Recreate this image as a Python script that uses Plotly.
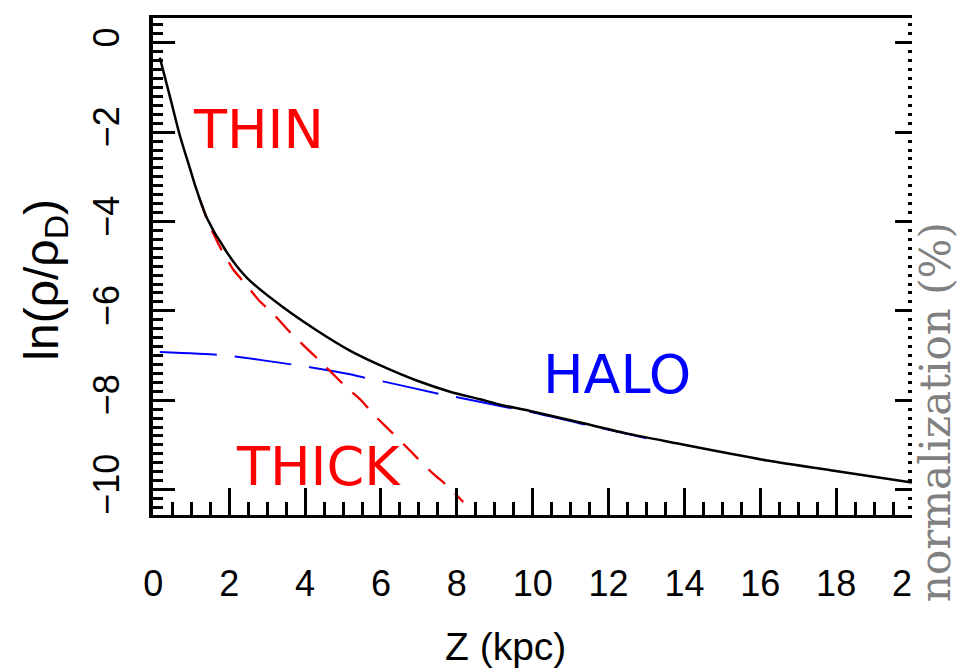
import plotly.graph_objects as go

# ---- data ----
z_total = [0.17, 0.45, 0.70, 0.96, 1.10, 1.30, 1.40, 1.52, 1.64, 1.80, 1.93, 2.20, 2.55, 3.42, 4.31,
           5.18, 6.06, 6.94, 7.82, 8.61, 9.14, 9.93, 11.25, 12.57, 13.89, 15.22, 16.18, 17.94, 20.0]
ln_total = [-0.33, -1.25, -2.08, -2.80, -3.19, -3.68, -3.90, -4.10, -4.29, -4.50, -4.68, -5.00,
            -5.33, -5.92, -6.44, -6.89, -7.25, -7.56, -7.81, -7.98, -8.10, -8.24, -8.50, -8.76,
            -8.98, -9.20, -9.35, -9.58, -9.84]

z_disk = [1.20, 1.40, 1.58, 1.80, 2.11, 2.41, 2.81, 3.14, 3.56, 3.87, 4.35, 4.66, 5.10, 5.45,
          5.84, 6.20, 6.64, 6.94, 7.38, 7.74, 8.17]
ln_disk = [-3.45, -3.92, -4.27, -4.64, -5.08, -5.38, -5.79, -6.05, -6.44, -6.70, -7.09, -7.35,
           -7.72, -7.98, -8.35, -8.65, -9.02, -9.28, -9.65, -9.91, -10.28]

z_halo = [0.17, 1.67, 2.15, 3.65, 4.13, 5.18, 5.63, 6.11, 7.60, 8.04, 9.14, 9.93, 11.25, 12.57, 13.0]
ln_halo = [-6.92, -6.98, -7.02, -7.20, -7.26, -7.42, -7.51, -7.59, -7.87, -7.94, -8.13, -8.26,
           -8.52, -8.77, -8.85]

x_tickvals = [0, 2, 4, 6, 8, 10, 12, 14, 16, 18, 20]
x_ticktext = ["0", "2", "4", "6", "8", "10", "12", "14", "16", "18", "2\u2007"]
y_tickvals = [0, -2, -4, -6, -8, -10]

labels = ["THIN", "THICK", "HALO"]
label_z = [2.78, 4.34, 12.23]
label_ln = [-1.94, -9.49, -7.42]
label_colors = ["#ff0000", "#ff0000", "#0000ff"]

XRANGE = [-0.01, 20.0]
YRANGE = [-10.57, 0.556]

fig = go.Figure()
fig.add_trace(go.Scatter(x=z_halo, y=ln_halo, mode="lines",
                         line=dict(color="#0000ff", width=2, dash="57px,18px", shape="spline", smoothing=0.6),
                         showlegend=False, hoverinfo="skip"))
fig.add_trace(go.Scatter(x=z_disk, y=ln_disk, mode="lines",
                         line=dict(color="#ee0000", width=2.3, dash="22px,14px", shape="spline", smoothing=0.6),
                         showlegend=False, hoverinfo="skip"))
fig.add_trace(go.Scatter(x=z_total, y=ln_total, mode="lines",
                         line=dict(color="#000000", width=2.5, shape="spline", smoothing=0.8),
                         showlegend=False, hoverinfo="skip"))
fig.add_trace(go.Scatter(x=[None], y=[None], yaxis="y2", mode="lines", showlegend=False, hoverinfo="skip"))

tickfont = dict(family="Liberation Sans, Arial, sans-serif", size=36, color="#000000")

# the page body has an 8px default margin, so the figure is sized to fit the window
fig.update_layout(
    width=957, height=663,
    margin=dict(l=145, r=53, t=7, b=156),
    paper_bgcolor="#ffffff", plot_bgcolor="#ffffff",
    xaxis=dict(range=XRANGE, tickvals=x_tickvals, ticktext=x_ticktext,
               ticks="inside", ticklen=27, tickwidth=3, tickcolor="#000000",
               minor=dict(dtick=0.5, tick0=0, ticks="inside", ticklen=13, tickwidth=3, tickcolor="#000000"),
               showline=True, linewidth=3, linecolor="#000000", mirror=True,
               showgrid=False, zeroline=False, tickfont=tickfont, ticklabelstandoff=35),
    yaxis=dict(range=YRANGE, tickvals=y_tickvals, tickangle=-90,
               ticks="inside", ticklen=22, tickwidth=3, tickcolor="#000000",
               minor=dict(dtick=0.2, tick0=0, ticks="inside", ticklen=10, tickwidth=3, tickcolor="#000000"),
               showline=True, linewidth=4, linecolor="#000000", mirror=False,
               showgrid=False, zeroline=False, tickfont=tickfont, ticklabelstandoff=16),
    yaxis2=dict(range=YRANGE, tickvals=y_tickvals, overlaying="y", side="right", anchor="x",
                ticks="inside", ticklen=17, tickwidth=3, tickcolor="#000000",
                minor=dict(dtick=0.2, tick0=0, ticks="inside", ticklen=4, tickwidth=3, tickcolor="#000000"),
                showline=False, showgrid=False, zeroline=False, showticklabels=False),
)

for t, zx, ly, c in zip(labels, label_z, label_ln, label_colors):
    fig.add_annotation(x=zx, y=ly, xref="x", yref="y", text=t, showarrow=False,
                       xanchor="center", yanchor="middle",
                       font=dict(family="DejaVu Sans, sans-serif", size=54, color=c))

# axis titles
fig.add_annotation(x=-0.142, y=0.474, xref="paper", yref="paper", text="ln(\u03c1/\u03c1<sub>D</sub>)",
                   textangle=-90, showarrow=False, xanchor="center", yanchor="middle",
                   font=dict(family="Liberation Sans, Arial, sans-serif", size=48, color="#000000"))
fig.add_annotation(x=0.465, y=-0.264, xref="paper", yref="paper", text="Z (kpc)",
                   showarrow=False, xanchor="center", yanchor="middle",
                   font=dict(family="Liberation Sans, Arial, sans-serif", size=39, color="#000000"))
fig.add_annotation(x=1.031, y=0.206, xref="paper", yref="paper", text="normalization (%)",
                   textangle=-90, showarrow=False, xanchor="center", yanchor="middle",
                   font=dict(family="DejaVu Serif, serif", size=42, color="#808080"))

fig.write_html("out.html")
